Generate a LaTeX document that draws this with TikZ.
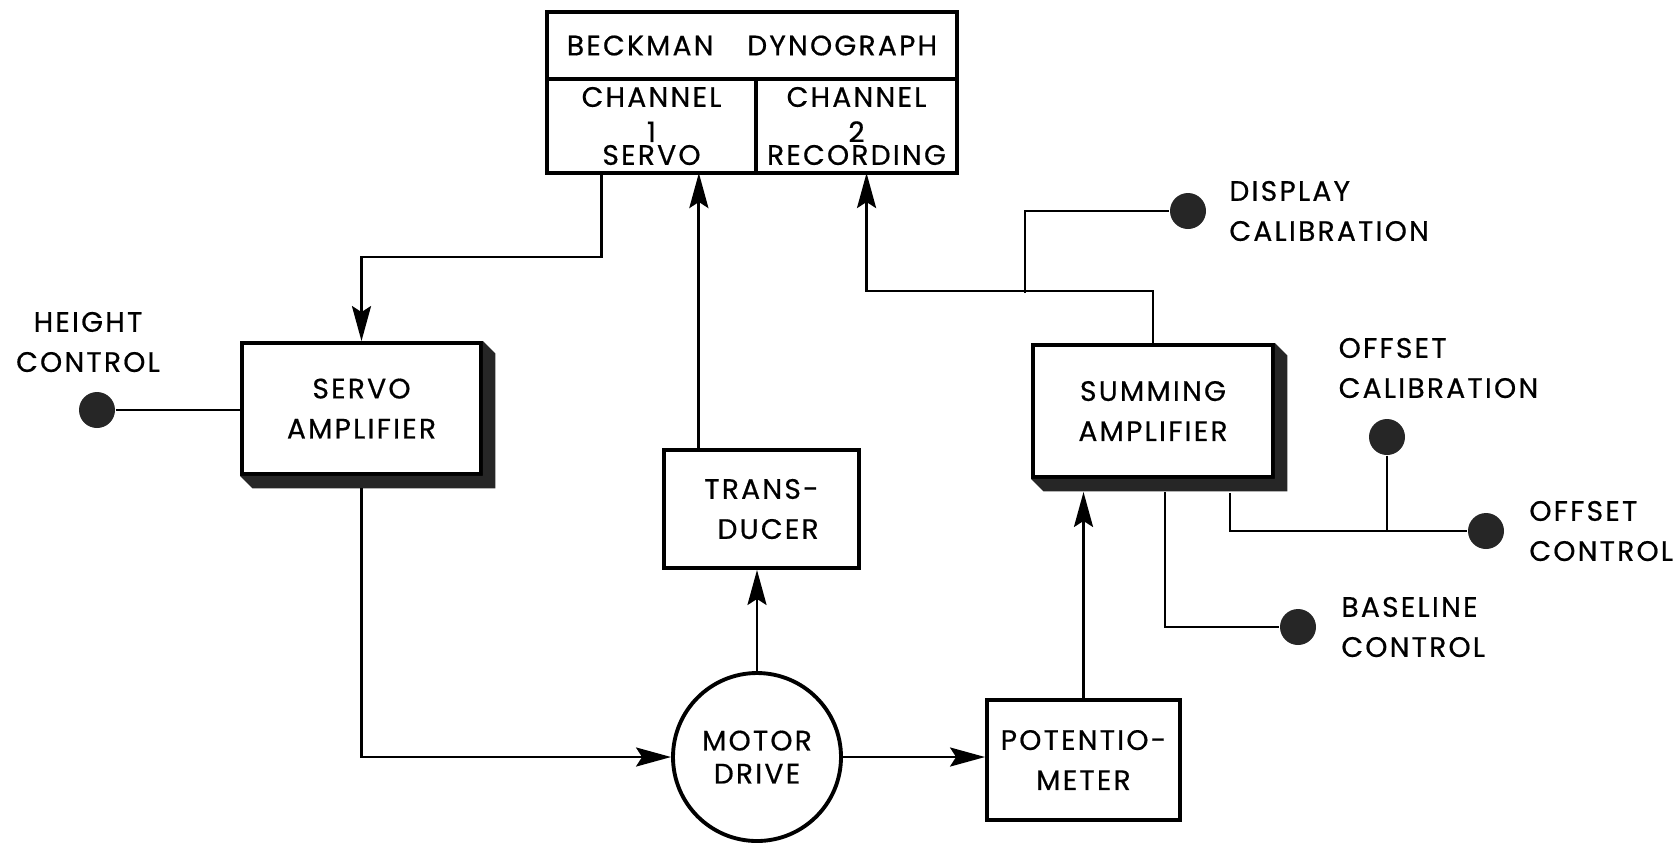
\documentclass[tikz,border=0pt]{standalone}
\usepackage{fontspec}
\setmainfont{Poppins}[LetterSpace=8,FakeBold=0.6]
\usetikzlibrary{arrows.meta,positioning,calc}

\tikzset{
  every node/.style={font=\fontsize{8}{11.4}\selectfont, inner sep=0pt},
  block/.style={draw, line width=1.1pt, align=center},
  cell/.style={block, outer sep=0pt, minimum height=9.4mm},
  knob/.style={circle, fill=black!85, minimum size=3.6mm},
  tag/.style={align=left, anchor=west},
  wire/.style={line width=0.8pt},
  flow/.style={wire, -{Stealth[length=3.5mm,width=1.9mm,inset=0.6mm]}},
}

\begin{document}
\begin{tikzpicture}[x=1mm,y=-1mm]
	\useasboundingbox (0,0) rectangle (167.5,84.2);
	% recorder
	\node[block, outer sep=0pt, minimum width=41mm, minimum height=6.7mm] (beck) at (75.2,4.55) {BECKMAN\hspace{1.2em}DYNOGRAPH};
	\node[cell, minimum width=20.9mm, anchor=north west] (ch1) at (beck.south west) {CHANNEL\\[-1.4pt]1\\[-4.9pt]SERVO};
	\node[cell, minimum width=20.1mm, anchor=north east] (ch2) at (beck.south east) {CHANNEL\\[-1.4pt]2\\[-4.9pt]RECORDING};
	% blocks
	\node[block, minimum width=23.9mm, minimum height=13.1mm] (servo) at (36.15,40.85) {SERVO\\AMPLIFIER};
	\node[block, minimum width=19.5mm, minimum height=11.8mm, align=right] (trans) at (76.15,50.9) {TRANS-\\DUCER};
	\node[block, circle, minimum size=16.8mm] (motor) at (75.7,75.7) {MOTOR\\[-2pt]DRIVE};
	\node[block, minimum width=19.3mm, minimum height=12mm] (pot) at (108.35,76) {POTENTIO-\\METER};
	\node[block, minimum width=24mm, minimum height=13.2mm] (summing) at (115.3,41.1) {SUMMING\\AMPLIFIER};
	\foreach \b in {servo,summing}
		\fill[black!85] (\b.north east) -- ++(1.25,1.25) |- ($(\b.south west)+(1.25,1.25)$) -- (\b.south west) -- (\b.south east) -- cycle;
	% controls
	\node[knob] (hdot) at (9.7,41) {};
	\node[knob] (dispdot) at (118.8,21.1) {};
	\node[knob] (caldot) at (138.7,43.7) {};
	\node[knob] (offdot) at (148.6,53.1) {};
	\node[knob] (basedot) at (129.8,62.7) {};
	\node[align=center] (hlbl) at (8.8,34.2) {HEIGHT\\CONTROL};
	\node[tag, right=2.2mm of dispdot] (displbl) {DISPLAY\\CALIBRATION};
	\node[tag] (callbl) at (133.8,36.8) {OFFSET\\CALIBRATION};
	\node[tag, right=2.4mm of offdot] (offlbl) {OFFSET\\CONTROL};
	\node[tag, right=2.4mm of basedot] (baselbl) {BASELINE\\CONTROL};
	% signal paths
	\draw[flow] ($(ch1.south west)!0.26!(ch1.south east)$) -- ++(0,8.4) -| (servo.north);
	\coordinate (tr) at ($(trans.north west)!0.185!(trans.north east)$);
	\draw[flow] (tr) -- (tr |- ch1.south);
	\draw[flow] (servo.south) ++(0,1.25) |- (motor.west);
	\draw[flow] (motor.north) -- (motor.north |- trans.south);
	\draw[flow] (motor.east) -- (motor.east -| pot.west);
	\draw[flow] (pot.north) -- ($(pot.north |- summing.south)+(0,1.3)$);
	\draw[flow] (summing.north) -- ++(0,-5.2) -| ($(ch2.south west)!0.55!(ch2.south east)$);
	\coordinate (dj) at (102.5,29.3);
	\draw[wire] (dj) |- (dispdot);
	\draw[wire] ($(summing.south)+(1.2,1.3)$) |- (basedot);
	\draw[wire] ($(summing.south)+(7.7,1.4)$) |- (offdot);
	\draw[wire] (caldot) -- (caldot |- offdot);
	\draw[wire] (hdot) -- (hdot -| servo.west);
\end{tikzpicture}
\end{document}
